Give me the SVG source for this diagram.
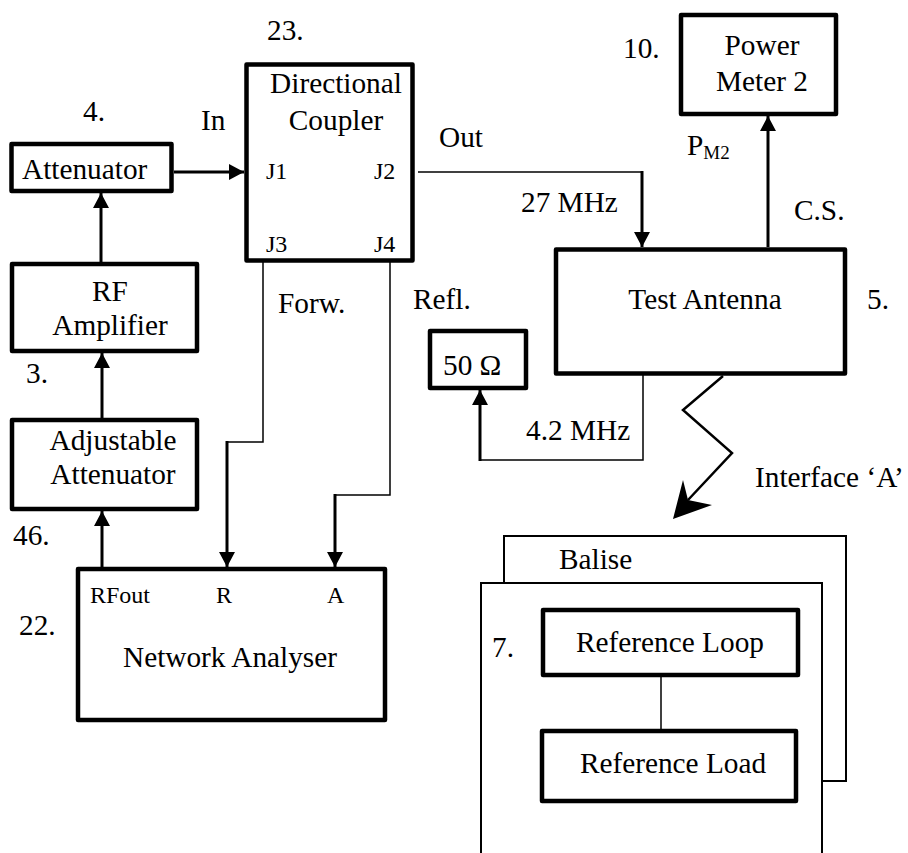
<svg xmlns="http://www.w3.org/2000/svg" width="908" height="853" viewBox="0 0 908 853" font-family="'Liberation Serif', 'DejaVu Serif', serif">
<style>
text{font-family:'Liberation Serif','DejaVu Serif',serif;fill:#000}
.t{font-size:29.3px}
.s{font-size:24px}
.sub{font-size:19px}
.box{fill:#fff;stroke:#000;stroke-width:4.5;stroke-linejoin:round}
.thin{fill:#fff;stroke:#000;stroke-width:2}
.c{fill:none;stroke:#000;stroke-width:3}
.cl{fill:none;stroke:#000;stroke-width:1.5}
</style>
<defs>
<marker id="ah" markerUnits="userSpaceOnUse" markerWidth="16" markerHeight="16" refX="15" refY="8" orient="auto">
<path d="M0,0 L15,8 L0,16 z" fill="#000"/>
</marker>
</defs>
<rect width="908" height="853" fill="#fff"/>
<g id="connectors">
<path class="c" d="M174,172 L244,172" marker-end="url(#ah)"/>
<path class="c" d="M101,262 L101,193" marker-end="url(#ah)"/>
<path class="c" d="M102,418 L102,353" marker-end="url(#ah)"/>
<path class="c" d="M102,567 L102,511" marker-end="url(#ah)"/>
<path class="cl" d="M418,172 L642,172"/>
<path class="c" d="M642,171 L642,247" marker-end="url(#ah)"/>
<path class="c" d="M768,247 L768,116" marker-end="url(#ah)"/>
<path class="cl" d="M263,262 L263,442 L227,442"/>
<path class="c" d="M227,441 L227,567" marker-end="url(#ah)"/>
<path class="cl" d="M390,262 L390,495 L335,495"/>
<path class="c" d="M335,494 L335,567" marker-end="url(#ah)"/>
<path class="cl" d="M643,369 L643,460 L480,460"/>
<path class="c" d="M480,461 L480,390" marker-end="url(#ah)"/>
<path fill="none" stroke="#000" stroke-width="2.5" d="M723,376 L683,410 L732,453 L688,500"/>
<path fill="#000" d="M673,519 L683,480 L688,500 L712,505 z"/>
</g>
<g id="attenuator">
<rect class="box" x="11.5" y="144" width="160" height="47"/>
<text class="t" x="22" y="179">Attenuator</text>
<text class="t" x="83" y="121">4.</text>
</g>
<g id="rf-amplifier">
<rect class="box" x="12" y="264" width="185" height="87"/>
<text class="t" x="110" y="301" text-anchor="middle">RF</text>
<text class="t" x="110" y="335" text-anchor="middle">Amplifier</text>
<text class="t" x="26" y="383">3.</text>
</g>
<g id="adjustable-attenuator">
<rect class="box" x="12" y="420" width="185" height="89"/>
<text class="t" x="113" y="450" text-anchor="middle">Adjustable</text>
<text class="t" x="113" y="484" text-anchor="middle">Attenuator</text>
<text class="t" x="13" y="545">46.</text>
</g>
<g id="network-analyser">
<rect class="box" x="78" y="569" width="307" height="151"/>
<text class="s" x="90" y="603">RFout</text>
<text class="s" x="216" y="603">R</text>
<text class="s" x="327" y="603">A</text>
<text class="t" x="230" y="667" text-anchor="middle">Network Analyser</text>
<text class="t" x="19" y="635">22.</text>
</g>
<g id="directional-coupler">
<rect class="box" x="246.5" y="64.5" width="166" height="196"/>
<text class="t" x="336" y="93" text-anchor="middle">Directional</text>
<text class="t" x="336" y="130" text-anchor="middle">Coupler</text>
<text class="s" x="266" y="179">J1</text>
<text class="s" x="374" y="179">J2</text>
<text class="s" x="266" y="252">J3</text>
<text class="s" x="374" y="252">J4</text>
<text class="t" x="267" y="40">23.</text>
</g>
<g id="labels">
<text class="t" x="201" y="130">In</text>
<text class="t" x="439" y="147">Out</text>
<text class="t" x="521" y="212">27 MHz</text>
<text class="t" x="278" y="313">Forw.</text>
<text class="t" x="413" y="309">Refl.</text>
<text class="t" x="526" y="440">4.2 MHz</text>
<text class="t" x="687" y="155">P<tspan class="sub" dy="4">M2</tspan></text>
<text class="t" x="794" y="220">C.S.</text>
<text class="t" x="755" y="487">Interface ‘A’</text>
</g>
<g id="power-meter">
<rect class="box" x="681" y="15" width="155" height="99"/>
<text class="t" x="762" y="55" text-anchor="middle">Power</text>
<text class="t" x="762" y="91" text-anchor="middle">Meter 2</text>
<text class="t" x="623" y="58">10.</text>
</g>
<g id="test-antenna">
<rect class="box" x="556" y="249.5" width="289" height="124"/>
<text class="t" x="705" y="309" text-anchor="middle">Test Antenna</text>
<text class="t" x="867" y="309">5.</text>
</g>
<g id="load-50">
<rect class="box" x="430" y="331" width="96" height="57"/>
<text class="t" x="443" y="375">50 Ω</text>
</g>
<g id="balise">
<rect class="thin" x="504" y="536" width="342" height="245"/>
<text class="t" x="559" y="569">Balise</text>
<rect class="thin" x="481" y="583" width="341" height="290"/>
<text class="t" x="492" y="657">7.</text>
</g>
<g id="reference-loop">
<rect class="box" x="543" y="610" width="255" height="65"/>
<text class="t" x="670" y="652" text-anchor="middle">Reference Loop</text>
</g>
<g id="reference-load">
<rect class="box" x="542" y="731" width="254" height="70"/>
<text class="t" x="673" y="773" text-anchor="middle">Reference Load</text>
</g>
<path class="cl" d="M661,677 L661,729"/>
</svg>
